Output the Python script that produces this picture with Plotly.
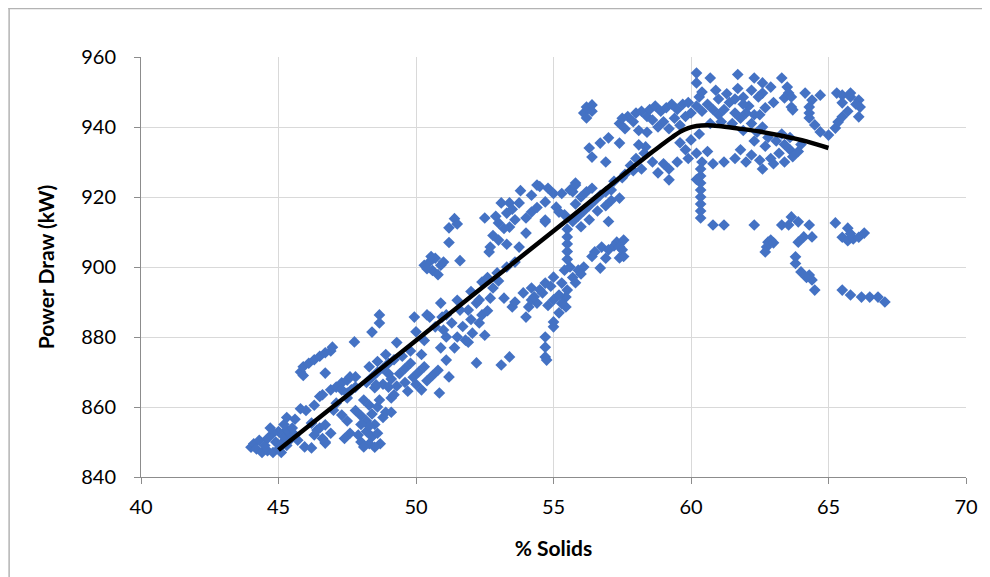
import plotly.graph_objects as go

# ---- data: (% solids, power draw kW) pairs ----
low_cluster = [(44.0,848.5),(44.1,849.5),(44.2,848.0),(44.4,847.0),(44.6,847.5),(44.8,847.0),(45.0,848.0),(45.1,847.0),
    (44.3,850.5),(44.5,849.0),(44.6,851.0),(44.9,850.0),(45.1,849.5),(45.3,849.0),(45.4,850.5),(45.7,850.5),(45.2,851.5),
    (45.4,852.5),(45.6,852.0),(45.0,853.0),(44.8,852.5),(45.3,853.5),(45.5,854.0),(45.2,855.0),(44.7,854.0),(45.3,857.0),
    (45.6,856.5),(45.8,859.5),(46.0,859.0),(46.3,860.5),(46.5,863.0),(46.6,863.5),(45.95,848.6),(46.2,848.3),(46.7,849.7),
    (46.7,850.0),(46.3,852.0),(46.4,853.4),(46.5,854.0),(46.7,854.9),(46.2,855.4),(46.9,852.5),(46.6,851.0)]
low_strand = [(45.8,870.0),(45.9,869.0),(45.9,871.5),(46.1,872.5),(46.3,873.5),(46.5,874.5),(46.7,875.5),(46.9,876.0),
    (46.7,869.7),(46.96,877.1),(47.76,878.6),(48.4,881.4),(48.67,884.0),(48.67,886.3),(49.3,878.4)]
mid_low = [(46.9,864.9),(47.1,865.7),(47.3,866.9),(47.5,867.7),(47.6,868.6),(47.3,864.9),(47.5,864.0),(47.1,861.1),
    (47.0,859.1),(47.3,857.7),(47.65,864.9),(47.8,865.7),(47.8,868.6),(47.5,862.6),(47.5,856.0),(47.6,852.5),(47.4,851.0),
    (47.8,859.0),(48.0,857.5),(48.2,856.0),(48.4,858.0),(48.2,853.0),(48.4,851.5),(48.0,850.0),(48.3,849.5),(48.6,852.5),
    (48.5,855.0),(48.8,857.0),(48.1,862.0),(48.3,860.5),(48.6,860.0),(48.9,858.5),(49.1,858.5),(47.9,852.0),(48.7,849.5),
    (48.1,848.6),(48.5,848.5),(48.67,862.0),(49.1,862.6),(48.3,854.5),(48.0,855.0)]
mid_cluster = [(48.2,867.0),(48.4,868.5),(48.6,870.0),(48.8,871.0),(49.0,872.5),(49.2,873.5),(48.5,865.5),(48.8,866.5),
    (49.1,868.0),(49.4,869.5),(49.6,871.0),(49.8,872.5),(48.3,871.5),(48.6,873.0),(49.0,869.5),(49.3,866.0),(49.6,867.0),
    (49.9,868.5),(50.1,870.0),(50.3,871.5),(50.0,866.5),(50.4,867.5),(50.6,869.0),(49.7,864.5),(50.2,864.9),(50.85,864.0),
    (51.2,868.6),(51.1,873.4),(50.9,876.9),(48.9,875.0),(49.5,874.5),(49.8,876.0),(50.2,875.0),(48.55,866.3),(49.0,865.7),
    (50.8,870.5),(49.2,863.5)]
upper_strand = [(49.94,885.7),(50.4,886.3),(50.5,885.7),(50.9,889.7),(50.95,885.7),(50.7,882.9),(51.1,880.0),(51.6,887.7),
    (51.9,887.7),(52.2,889.7),(52.4,886.3),(52.3,884.0),(52.05,881.1),(51.8,879.1),(51.5,880.0),(51.4,876.9),(52.3,890.6),
    (52.4,895.7),(52.7,891.1),(53.2,891.1),(53.5,888.6),(54.0,885.7),(52.2,872.6),(53.1,872.0),(53.4,874.3),(52.95,898.3),
    (53.6,901.4),(50.0,881.5),(50.3,879.0),(51.0,882.0),(51.3,884.0),(51.7,883.0),(52.0,885.0),(52.6,887.5),(51.5,890.5),
    (52.0,893.0),(52.8,894.0),(53.0,896.0),(51.9,878.5),(52.5,880.5),(51.1,886.3),(53.3,900.0),(52.6,897.0)]
cluster_50_900 = [(50.3,900.5),(50.5,901.5),(50.7,902.5),(50.9,900.5),(50.6,899.0),(50.8,897.8),(51.0,901.4),(50.4,899.5),
    (50.55,903.0),(51.6,901.8),(51.2,907.0),(51.2,911.2),(51.4,913.8),(51.5,912.3)]
cluster_53_915 = [(52.5,914.0),(52.9,914.5),(53.1,918.3),(53.4,918.3),(53.75,918.3),(54.2,915.7),(53.3,915.4),(53.0,912.6),
    (53.4,911.4),(53.0,907.7),(52.7,905.7),(52.66,904.3),(54.0,909.7),(53.75,905.7),(54.7,912.9),(54.5,923.0),(54.8,922.5),
    (55.0,921.0),(54.2,920.5),(53.8,921.8),(55.1,917.1),(55.4,914.9),(54.4,923.4),(55.3,921.0),(55.8,924.0),(54.7,918.6),
    (54.4,917.0),(55.2,915.7),(54.7,913.4),(53.2,911.0),(53.6,913.5),(54.0,914.0),(53.5,916.5),(52.8,909.0),(53.3,906.5),
    (55.6,922.0)]
cluster_55_890 = [(53.9,892.6),(54.2,894.0),(54.2,890.6),(54.6,892.6),(54.7,895.4),(55.0,897.1),(55.3,895.4),(55.4,899.1),
    (55.6,900.0),(55.9,899.1),(56.1,900.0),(55.5,893.4),(55.45,891.4),(55.0,890.6),(54.4,889.7),(54.1,888.6),(55.45,888.6),
    (55.2,886.9),(55.0,884.3),(55.0,882.9),(54.7,880.0),(54.7,877.1),(54.7,874.3),(54.75,873.4),(54.8,889.0),(55.2,892.0),
    (54.5,893.5),(54.9,894.5),(55.7,897.0),(56.0,898.0),(55.8,895.5),(55.3,889.6),(54.3,891.5),(53.6,890.0),(55.5,902.2),
    (55.5,904.4),(55.5,906.6),(55.5,908.6),(55.5,910.8)]
cluster_57_905 = [(56.5,904.3),(56.75,905.7),(57.0,904.9),(57.3,907.1),(57.55,907.7),(57.5,904.9),(57.4,902.6),(57.55,903.0),
    (56.4,903.0),(56.7,899.7),(57.2,906.0),(56.9,902.5),(57.4,905.8)]
cluster_56_918 = [(55.7,913.0),(55.9,914.5),(56.1,916.0),(56.3,917.5),(56.5,919.0),(56.7,920.5),(56.9,921.5),(55.8,918.0),
    (56.0,920.0),(56.2,921.5),(56.4,922.5),(55.7,921.5),(56.6,916.0),(56.9,917.5),(57.1,919.0),(57.4,919.7),(57.0,913.0),
    (56.3,913.5),(56.0,911.5),(55.8,923.4),(57.2,924.5),(57.5,925.5),(57.1,922.0)]
cluster_58_935 = [(56.1,944.0),(56.2,945.7),(56.4,946.3),(56.2,942.6),(56.4,944.5),(56.3,934.0),(56.4,931.4),(56.9,930.0),
    (56.7,935.4),(57.0,936.9),(57.4,935.4),(58.1,934.9),(58.35,934.3),(57.4,941.0),(57.7,943.0),(58.0,944.0),(58.2,944.5),
    (57.5,942.5),(58.4,943.0),(57.9,941.5),(57.6,939.5),(58.1,939.0),(58.5,945.0),(58.7,946.0),(58.9,944.5),(59.1,945.5),
    (59.3,946.5),(59.5,945.0),(59.7,946.5),(59.9,947.0),(58.6,942.0),(59.0,941.5),(59.4,942.5),(59.8,943.0),(58.8,940.0),
    (59.2,939.5),(59.6,940.5),(58.4,938.5),(57.8,929.0),(58.0,931.0),(58.3,932.5),(58.6,930.0),(57.6,926.5),(57.9,927.5),
    (58.2,928.0),(58.8,926.9),(59.2,924.9),(59.0,929.5),(59.2,928.0),(59.5,930.0),(59.8,933.5),(59.6,935.5),(60.0,936.3),
    (59.9,931.0)]
cluster_61_940 = [(60.0,944.0),(60.2,946.0),(60.4,944.5),(60.6,946.5),(60.8,945.0),(61.0,943.5),(61.2,945.0),(61.4,947.0),
    (61.6,944.0),(61.8,942.5),(62.0,944.0),(61.0,948.0),(61.3,949.5),(61.7,951.0),(61.9,948.5),(62.1,946.0),(60.3,948.6),
    (60.4,950.0),(60.2,952.6),(60.2,955.4),(60.7,954.0),(61.7,955.0),(60.7,941.0),(61.1,941.5),(61.5,941.0),(62.2,941.0),
    (62.6,940.0),(60.3,938.0),(61.9,939.0),(62.4,938.5),(62.8,937.0),(63.1,936.0),(63.4,935.0),(63.6,933.5),(63.2,932.5),
    (62.9,931.0),(62.5,930.5),(62.2,932.0),(61.8,933.5),(60.6,933.0),(60.2,932.5),(60.4,930.0),(60.8,929.5),(61.2,930.0),
    (61.6,931.0),(62.0,930.0),(62.6,928.0),(63.0,929.5),(63.4,930.0),(63.7,931.5),(63.9,933.0),(64.0,935.0),(63.3,938.0),
    (63.6,937.0),(62.7,934.5),(62.3,936.0),(61.6,948.0),(61.9,946.5),(62.3,943.5),(60.9,950.5)]
column_60 = [(60.35,914.0),(60.35,916.0),(60.35,918.0),(60.35,920.0),(60.35,922.0),(60.35,924.0),(60.35,926.0),
    (60.35,928.0),(60.2,925.0),(60.8,912.0),(61.2,912.0)]
right_upper = [(62.3,954.0),(62.6,952.6),(62.9,951.4),(62.6,949.7),(62.45,948.6),(62.7,945.5),(62.5,943.5),(63.3,954.0),
    (63.5,951.4),(63.55,949.7),(63.4,948.3),(63.65,948.6),(63.65,945.7),(63.7,944.9),(63.0,947.0),(62.2,950.5),(64.15,949.7),
    (64.4,947.7),(64.7,949.1),(64.3,945.7),(64.3,944.0),(64.3,942.6),(64.5,940.6),(64.7,938.6),(65.0,937.7),(65.25,939.7),
    (65.35,941.4),(65.5,942.9),(65.3,949.7),(65.5,949.1),(65.8,948.6),(66.1,947.7),(66.15,945.7),(66.1,942.9),(65.5,946.9),
    (65.8,949.7),(65.7,944.5),(66.0,946.5)]
right_lower = [(62.3,912.0),(63.3,912.0),(63.55,912.0),(63.65,914.3),(63.9,912.9),(64.3,912.0),(62.8,907.1),(62.9,907.7),
    (62.75,905.7),(62.7,904.3),(63.0,906.9),(63.9,907.1),(64.1,908.6),(64.4,908.6),(63.8,902.9),(63.8,901.0),(64.0,898.6),
    (64.3,897.7),(64.4,896.3),(64.5,893.4),(65.25,912.6),(65.7,911.1),(65.5,908.5),(65.7,907.5),(65.9,908.0),(66.1,908.5),
    (66.3,909.7),(65.8,909.5),(65.5,893.4),(65.8,892.0),(66.2,891.4),(66.5,891.4),(66.8,891.4),(67.05,890.0),(64.2,897.0)]

trend_solids = [45, 47, 49, 51, 53, 55, 57, 58, 58.6, 59.0, 59.3, 59.6, 59.9, 60.2, 60.6, 61.0, 61.7, 62.5, 63.3, 64.2, 65]
trend_power = [847.7, 860.2, 872.7, 885.3, 897.8, 910.3, 922.9, 929.2, 932.9, 935.3, 937.0, 938.6, 939.7, 940.3,
               940.5, 940.3, 939.6, 938.7, 937.5, 935.9, 934.0]

x_ticks = [40, 45, 50, 55, 60, 65, 70]
y_ticks = [840, 860, 880, 900, 920, 940, 960]

groups = [low_cluster, low_strand, mid_low, mid_cluster, upper_strand, cluster_50_900, cluster_53_915,
          cluster_55_890, cluster_57_905, cluster_56_918, cluster_58_935, cluster_61_940, column_60,
          right_upper, right_lower]
solids = [p[0] for g in groups for p in g]
power = [p[1] for g in groups for p in g]

FONT = "Lato, 'Liberation Sans', Arial, sans-serif"

# page body has an 8px margin, so the figure is offset by (8, 8) in the window
W, H = 982, 569
fig = go.Figure()
fig.add_trace(go.Scatter(x=solids, y=power, mode="markers",
                         marker=dict(symbol="diamond", size=9, color="#4472C4", line=dict(width=0)),
                         showlegend=False))
fig.add_trace(go.Scatter(x=trend_solids, y=trend_power, mode="lines",
                         line=dict(color="black", width=4.5, shape="spline", smoothing=1.0),
                         showlegend=False, hoverinfo="skip"))

fig.update_layout(
    width=W, height=H,
    margin=dict(l=133, r=22, t=49, b=100),
    paper_bgcolor="white", plot_bgcolor="white",
    font=dict(family=FONT, color="black", size=20),
    xaxis=dict(range=[40, 70], tickvals=x_ticks, showgrid=True, gridcolor="#d9d9d9", gridwidth=1,
               showline=True, linecolor="#8c8c8c", linewidth=1, ticks="outside", ticklen=6, tickcolor="#8c8c8c",
               zeroline=False, tickfont=dict(size=20), ticklabelstandoff=6,
               title=dict(text="<b>% Solids</b>", font=dict(size=21), standoff=24)),
    yaxis=dict(range=[840, 960], tickvals=y_ticks, showgrid=True, gridcolor="#d9d9d9", gridwidth=1,
               showline=True, linecolor="#8c8c8c", linewidth=1, ticks="outside", ticklen=6, tickcolor="#8c8c8c",
               zeroline=False, tickfont=dict(size=20), ticklabelstandoff=14,
               title=dict(text="<b>Power Draw (kW)</b>", font=dict(size=21), standoff=20)),
    shapes=[
        dict(type="line", xref="paper", yref="paper", x0=-133/827, x1=(W-133)/827,
             y0=(420+48.5)/420, y1=(420+48.5)/420, line=dict(color="#b3b3b3", width=1.5)),
        dict(type="line", xref="paper", yref="paper", x0=(-133+0.8)/827, x1=(-133+0.8)/827,
             y0=(420+49)/420, y1=-100/420, line=dict(color="#b3b3b3", width=1.5)),
    ],
)

fig.write_html("out.html")
